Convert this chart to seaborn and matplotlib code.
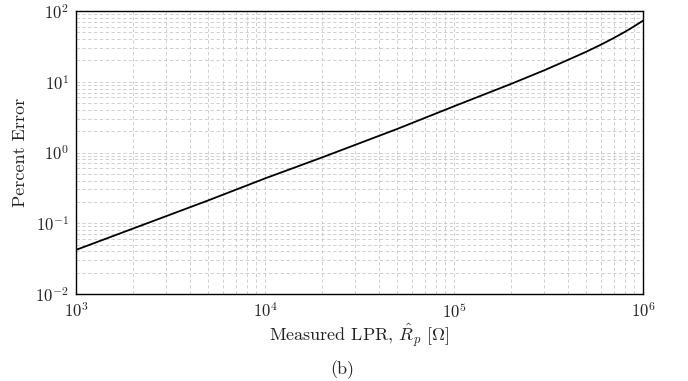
import numpy as np
import pandas as pd
import matplotlib
matplotlib.use("Agg")
import matplotlib.pyplot as plt
import seaborn as sns
from matplotlib.ticker import LogLocator, NullFormatter

# Data
measured_lpr = [1e3, 2e3, 5e3, 1e4, 2e4, 5e4, 1e5, 2e5, 3e5, 4e5, 5e5, 6e5, 7e5, 8e5, 9e5, 1e6]
percent_error = [0.042, 0.084, 0.21, 0.43, 0.85, 2.15, 4.5, 9.3, 14.5, 20.3, 26.5, 33.5, 41.5, 50.5, 61.0, 73.0]

sns.set_style("white")
plt.rcParams["font.family"] = ["cmr10", "DejaVu Serif"]
plt.rcParams["mathtext.fontset"] = "cm"
plt.rcParams["axes.formatter.use_mathtext"] = True

df = pd.DataFrame({"x": measured_lpr, "y": percent_error})

fig = plt.figure(figsize=(6.88, 3.81), dpi=100)
ax = fig.add_axes([76/688, 1-294/381, (643-76)/688, (294-11)/381])

sns.lineplot(data=df, x="x", y="y", ax=ax, color="black", linewidth=1.3)
ax.set_xscale("log")
ax.set_yscale("log")
ax.set_xlim(1e3, 1e6)
ax.set_ylim(1e-2, 1e2)

ax.xaxis.set_major_locator(LogLocator(base=10, numticks=10))
ax.xaxis.set_minor_locator(LogLocator(base=10, subs=np.arange(2, 10), numticks=20))
ax.yaxis.set_major_locator(LogLocator(base=10, numticks=10))
ax.yaxis.set_minor_locator(LogLocator(base=10, subs=np.arange(2, 10), numticks=20))
ax.xaxis.set_minor_formatter(NullFormatter())
ax.yaxis.set_minor_formatter(NullFormatter())

ax.grid(True, which="both", linestyle=(0, (4, 3)), color="#c8c8c8", linewidth=0.6)
ax.set_axisbelow(True)
for s in ax.spines.values():
    s.set_color("black")
    s.set_linewidth(1.0)
ax.tick_params(which="both", direction="in", length=0, labelsize=12, colors="#222222", pad=5)

ax.set_xlabel(r"Measured LPR, $\hat{R}_p$ [$\Omega$]", fontsize=13, labelpad=1)
ax.set_ylabel("Percent Error", fontsize=13, labelpad=5)
ax.xaxis.label.set_color("#222222")
ax.yaxis.label.set_color("#222222")

fig.text(342/688, 1-370/381, "(b)", ha="center", va="center", fontsize=13, color="#222222")

fig.savefig("out.png", dpi=100)
